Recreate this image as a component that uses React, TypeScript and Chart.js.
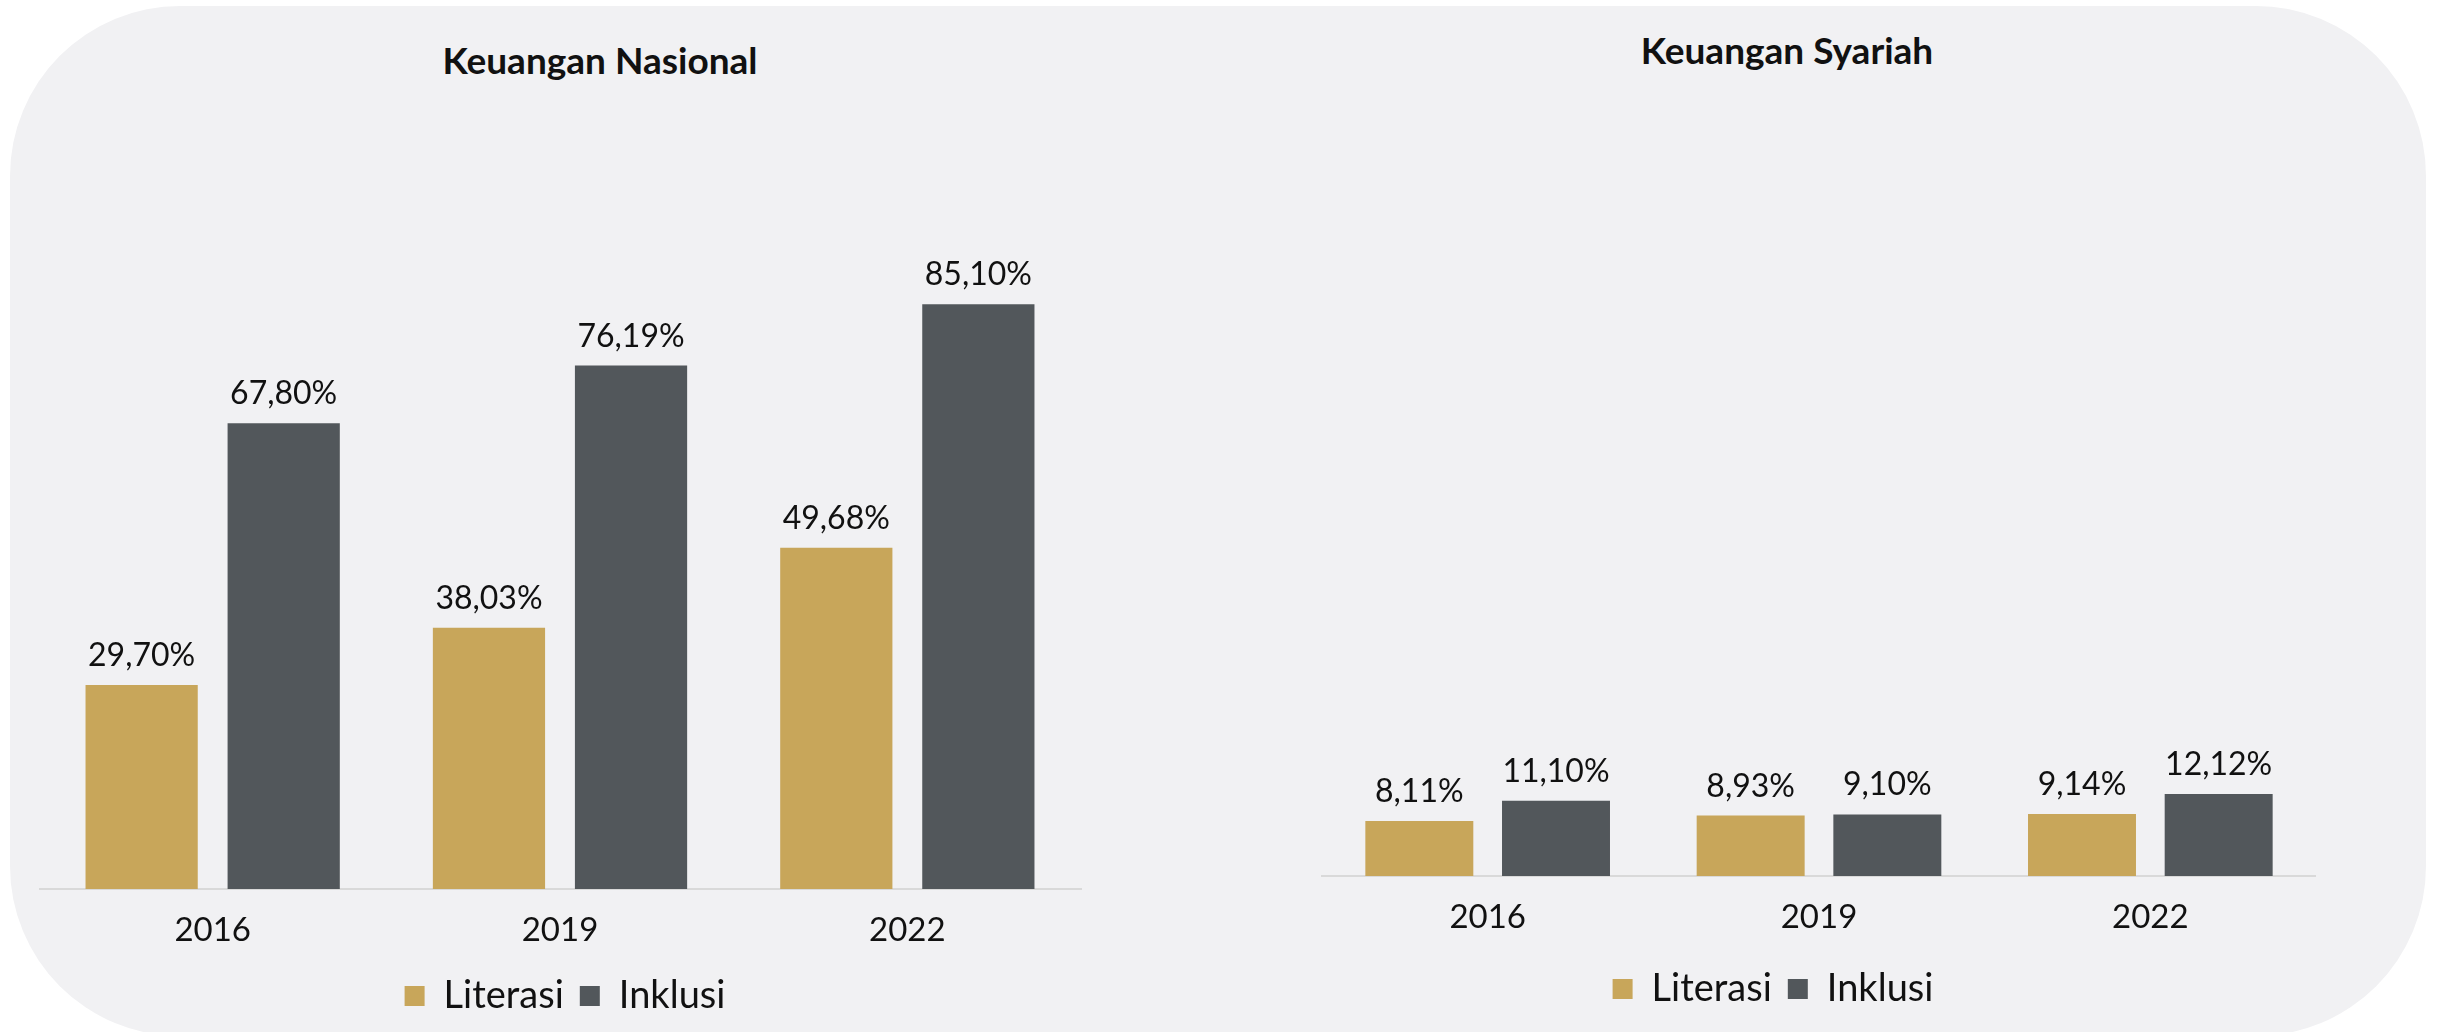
import React, { useEffect, useRef } from "react";
import { Chart, registerables } from "chart.js";

Chart.register(...registerables);

const years = ["2016", "2019", "2022"];
const seriesNames = ["Literasi", "Inklusi"];
const nasionalLiterasi = [29.7, 38.03, 49.68];
const nasionalInklusi = [67.8, 76.19, 85.1];
const syariahLiterasi = [8.11, 8.93, 9.14];
const syariahInklusi = [11.1, 9.1, 12.12];

const GOLD = "#c8a65a";
const GREY = "#52575b";
const FONT = "Lato";

const fmt = (v: number) => v.toFixed(2).replace(".", ",") + "%";

const valueLabels = {
  id: "valueLabels",
  afterDatasetsDraw(chart: any) {
    const ctx = chart.ctx;
    ctx.save();
    ctx.font = `32px ${FONT}`;
    ctx.fillStyle = "#111111";
    ctx.textAlign = "center";
    ctx.textBaseline = "alphabetic";
    chart.data.datasets.forEach((ds: any, di: number) => {
      const meta = chart.getDatasetMeta(di);
      meta.data.forEach((bar: any, i: number) => {
        ctx.fillText(fmt(ds.data[i]), bar.x, bar.y - 19);
      });
    });
    ctx.restore();
  },
};

type Cfg = {
  lit: number[];
  inkl: number[];
  left: number;
  top: number;
  width: number;
  height: number;
  yPos: "left" | "right";
  yWidth: number;
  xHeight: number;
  catPct: number;
  barPct: number;
};

function BarChart(props: Cfg) {
  const ref = useRef<HTMLCanvasElement>(null);
  useEffect(() => {
    if (!ref.current) return;
    const chart = new Chart(ref.current, {
      type: "bar",
      data: {
        labels: years,
        datasets: [
          {
            label: seriesNames[0],
            data: props.lit,
            backgroundColor: GOLD,
            borderWidth: 0,
            categoryPercentage: props.catPct,
            barPercentage: props.barPct,
          },
          {
            label: seriesNames[1],
            data: props.inkl,
            backgroundColor: GREY,
            borderWidth: 0,
            categoryPercentage: props.catPct,
            barPercentage: props.barPct,
          },
        ],
      },
      options: {
        responsive: false,
        animation: false,
        devicePixelRatio: 1,
        layout: { padding: 0 },
        plugins: {
          title: { display: false },
          tooltip: { enabled: false },
          legend: {
            display: true,
            position: "bottom",
            labels: {
              boxWidth: 20,
              boxHeight: 20,
              padding: 16,
              color: "#111111",
              font: { family: FONT, size: 38 },
            },
          },
        },
        scales: {
          x: {
            grid: { display: false, drawTicks: false },
            border: { display: true, color: "#d9d9d9", width: 2 },
            ticks: {
              color: "#111111",
              padding: 22,
              font: { family: FONT, size: 33 },
            },
            afterFit: (scale: any) => {
              scale.height = props.xHeight;
            },
          },
          y: {
            position: props.yPos,
            min: 0,
            max: 100,
            grid: { display: false, drawTicks: false },
            border: { display: false },
            ticks: { display: false },
            afterFit: (scale: any) => {
              scale.width = props.yWidth;
            },
          },
        },
      },
      plugins: [valueLabels],
    } as any);
    return () => chart.destroy();
  }, []);
  return (
    <canvas
      ref={ref}
      width={props.width}
      height={props.height}
      style={{
        position: "absolute",
        left: props.left,
        top: props.top,
        width: props.width,
        height: props.height,
      }}
    />
  );
}

const titleStyle = (cx: number, baseline: number): React.CSSProperties => ({
  position: "absolute",
  left: cx - 300,
  width: 600,
  top: baseline - 37,
  lineHeight: "37px",
  height: 37,
  textAlign: "center",
  fontFamily: FONT,
  fontWeight: 700,
  fontSize: 37,
  color: "#111111",
  whiteSpace: "nowrap",
});

export default function App() {
  return (
    <div
      style={{
        position: "absolute",
        left: 0,
        top: 0,
        width: 2438,
        height: 1032,
        overflow: "hidden",
        background: "#ffffff",
      }}
    >
      <div
        style={{
          position: "absolute",
          left: 10,
          top: 6,
          width: 2416,
          height: 1030,
          borderRadius: 170,
          background: "#f1f1f3",
        }}
      />
      <div style={titleStyle(600, 78)}>Keuangan Nasional</div>
      <div style={titleStyle(1787, 68)}>Keuangan Syariah</div>
      <BarChart
        lit={nasionalLiterasi}
        inkl={nasionalInklusi}
        left={39}
        top={202}
        width={1052}
        height={823}
        yPos="right"
        yWidth={10}
        xHeight={72}
        catPct={0.818}
        barPct={0.79}
      />
      <BarChart
        lit={syariahLiterasi}
        inkl={syariahInklusi}
        left={1230}
        top={199}
        width={1086}
        height={819}
        yPos="left"
        yWidth={92}
        xHeight={78}
        catPct={0.825}
        barPct={0.79}
      />
    </div>
  );
}
